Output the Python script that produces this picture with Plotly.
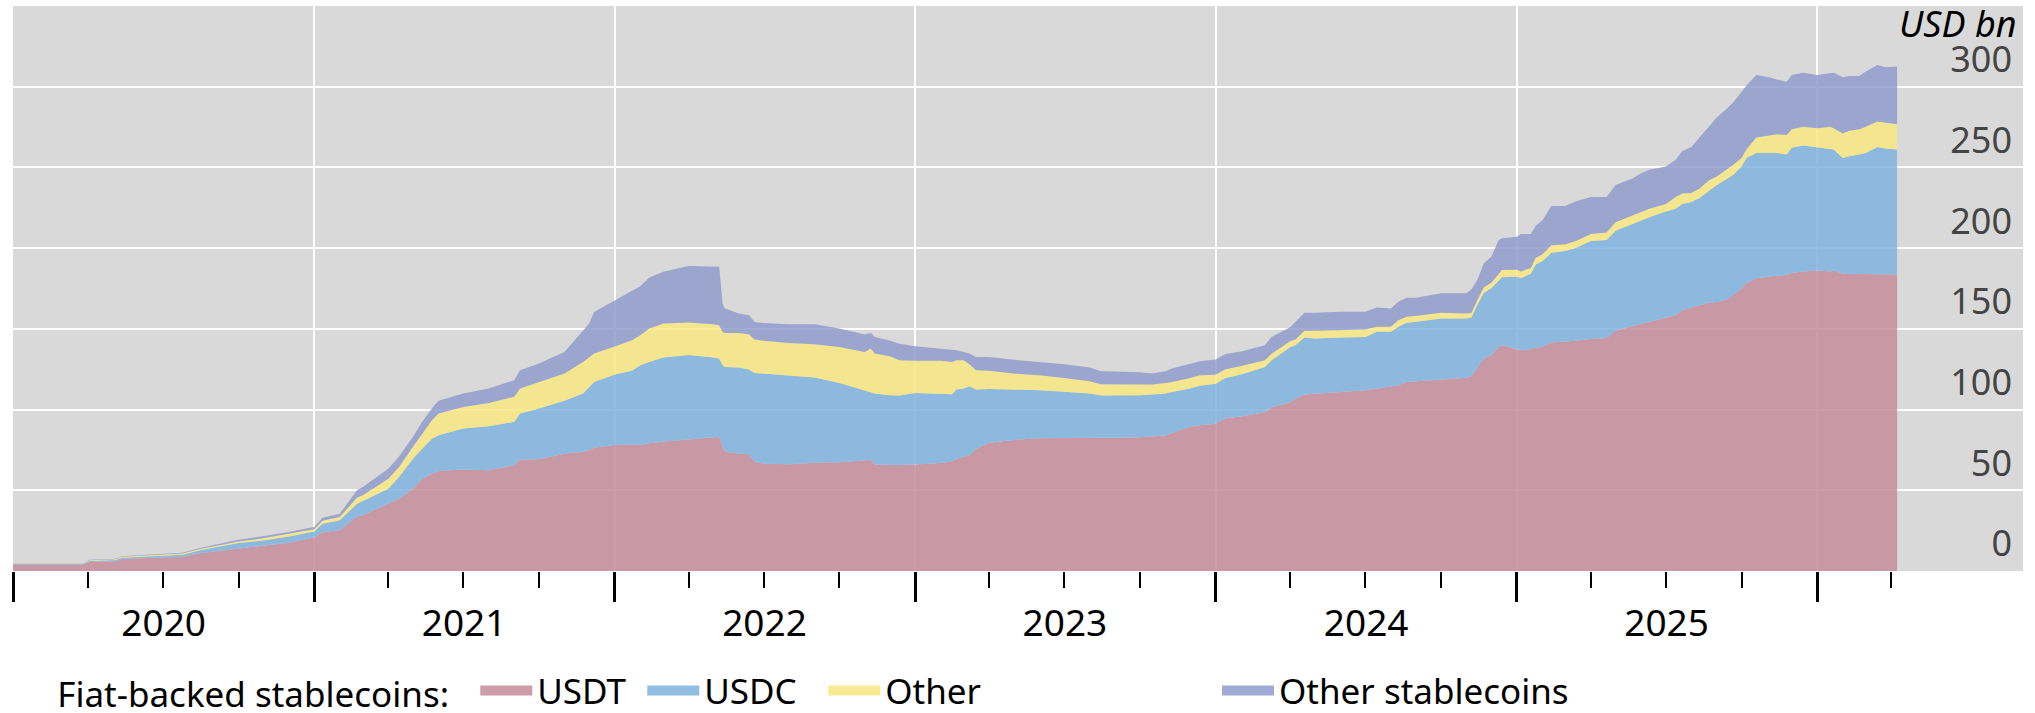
import plotly.graph_objects as go

# stablecoin market capitalisation, USD bn
dates = [
    "2020-01-01", "2020-03-25", "2020-04-03", "2020-05-05", "2020-05-12", "2020-07-01",
    "2020-07-25", "2020-08-15", "2020-09-01", "2020-10-01", "2020-11-01", "2020-12-01",
    "2021-01-01", "2021-01-11", "2021-02-01", "2021-02-22", "2021-03-01", "2021-04-01",
    "2021-04-14", "2021-05-01", "2021-05-12", "2021-05-24", "2021-06-01", "2021-07-01",
    "2021-08-01", "2021-09-01", "2021-09-08", "2021-10-01", "2021-11-01", "2021-11-24",
    "2021-12-01", "2021-12-07", "2022-01-01", "2022-01-22", "2022-02-01", "2022-02-12",
    "2022-03-01", "2022-04-01", "2022-05-01", "2022-05-08", "2022-05-12", "2022-05-15",
    "2022-06-01", "2022-06-13", "2022-06-20", "2022-07-01", "2022-08-01", "2022-09-01",
    "2022-10-01", "2022-11-01", "2022-11-08", "2022-11-13", "2022-12-01", "2022-12-13",
    "2023-01-01", "2023-02-01", "2023-02-15", "2023-02-20", "2023-03-01", "2023-03-08",
    "2023-03-16", "2023-04-01", "2023-05-01", "2023-06-01", "2023-07-01", "2023-08-01",
    "2023-08-15", "2023-09-01", "2023-10-01", "2023-10-16", "2023-11-01", "2023-11-09",
    "2023-12-01", "2023-12-13", "2024-01-01", "2024-01-13", "2024-02-01", "2024-03-01",
    "2024-03-09", "2024-04-01", "2024-04-07", "2024-04-18", "2024-05-01", "2024-06-01",
    "2024-07-01", "2024-07-15", "2024-08-01", "2024-08-10", "2024-08-20", "2024-09-01",
    "2024-10-01", "2024-11-01", "2024-11-07", "2024-11-14", "2024-11-22", "2024-12-01",
    "2024-12-10", "2024-12-14", "2025-01-01", "2025-01-06", "2025-01-18", "2025-01-24",
    "2025-02-01", "2025-02-12", "2025-03-01", "2025-03-14", "2025-04-01", "2025-04-20",
    "2025-05-01", "2025-05-22", "2025-06-01", "2025-06-11", "2025-07-01", "2025-07-13",
    "2025-07-21", "2025-08-01", "2025-08-11", "2025-08-23", "2025-09-01", "2025-09-13",
    "2025-09-21", "2025-10-01", "2025-10-07", "2025-10-19", "2025-11-01", "2025-11-13",
    "2025-11-25", "2025-12-01", "2025-12-15", "2026-01-01", "2026-01-17", "2026-01-21",
    "2026-02-01", "2026-02-09", "2026-02-21", "2026-03-01", "2026-03-15", "2026-03-25",
    "2026-04-08",
]

usdt = [
    4.0, 4.0, 5.6, 6.0, 7.5, 8.5, 8.9, 11.0, 12.1, 13.8, 15.6, 17.5,
    20.8, 24.0, 25.2, 33.9, 34.5, 41.7, 44.8, 51.0, 57.2, 60.3, 62.0, 62.8,
    62.4, 65.5, 69.0, 69.2, 72.7, 73.8, 74.8, 76.4, 78.1, 78.3, 78.1, 79.1,
    80.2, 81.4, 82.6, 83.1, 76.9, 73.8, 72.7, 72.3, 67.6, 66.5, 66.1, 67.1,
    67.4, 68.4, 68.8, 65.9, 65.7, 65.7, 66.0, 66.9, 67.9, 69.6, 70.7, 71.7,
    75.6, 79.5, 81.2, 82.2, 82.4, 82.4, 82.2, 82.6, 82.9, 83.3, 83.9, 85.5,
    89.3, 90.3, 91.2, 94.6, 95.7, 98.4, 101.5, 104.6, 106.7, 109.4, 109.8, 110.9,
    111.9, 112.9, 114.0, 115.0, 117.1, 117.5, 118.5, 119.7, 120.6, 125.4, 131.6, 133.6,
    138.8, 139.8, 137.5, 136.7, 137.4, 138.4, 138.8, 141.6, 142.2, 142.6, 143.7, 144.3,
    148.9, 152.1, 153.2, 154.2, 156.9, 158.4, 161.5, 163.2, 164.6, 166.1, 166.7, 168.2,
    170.9, 175.1, 178.2, 181.4, 182.4, 182.9, 183.5, 184.6, 185.6, 186.2, 185.6, 186.2,
    184.1, 184.1, 183.7, 183.7, 183.7, 183.7, 183.7,
]

usdc = [
    0.3, 0.3, 0.6, 0.8, 0.7, 1.1, 1.1, 1.8, 2.5, 3.5, 3.4, 3.8,
    3.6, 5.3, 6.2, 7.8, 8.9, 9.3, 13.5, 18.6, 18.6, 21.7, 22.1, 25.4,
    27.3, 26.9, 28.5, 31.4, 32.7, 36.3, 39.2, 40.7, 43.6, 45.7, 49.3, 50.4,
    52.0, 52.4, 49.6, 48.5, 50.5, 52.6, 53.3, 52.5, 55.1, 55.8, 55.2, 52.7,
    49.1, 43.5, 42.1, 44.0, 43.2, 43.0, 44.3, 43.0, 41.6, 42.8, 42.3, 42.8,
    36.8, 33.3, 31.2, 29.8, 28.6, 27.5, 26.5, 26.1, 26.0, 26.0, 26.0, 25.4,
    23.7, 24.4, 24.8, 25.0, 26.1, 27.9, 29.0, 34.2, 33.1, 35.2, 34.2, 33.7,
    33.1, 35.3, 34.2, 36.3, 36.7, 36.9, 37.9, 36.7, 36.5, 39.4, 40.8, 41.5,
    41.5, 42.2, 45.0, 44.7, 46.7, 51.4, 53.1, 55.5, 56.0, 57.7, 60.8, 60.8,
    61.9, 62.9, 63.9, 65.0, 65.8, 66.0, 65.9, 65.4, 66.5, 69.8, 72.4, 74.7,
    74.5, 75.5, 77.7, 77.6, 76.6, 76.1, 74.5, 77.6, 78.0, 76.4, 76.1, 74.9,
    71.8, 72.9, 74.3, 75.3, 78.9, 78.0, 77.4,
]

other_fiat = [
    0.2, 0.2, 0.5, 0.5, 0.6, 0.6, 0.8, 0.8, 0.8, 1.0, 1.4, 1.6,
    1.5, 1.9, 2.1, 3.8, 3.5, 6.2, 6.2, 7.3, 9.3, 11.4, 13.4, 13.4,
    14.4, 15.5, 15.5, 16.5, 16.9, 19.5, 18.6, 17.6, 17.3, 19.0, 18.7, 20.7,
    21.1, 20.1, 20.7, 20.7, 20.7, 21.1, 21.5, 21.9, 20.7, 20.3, 20.0, 20.7,
    22.3, 23.8, 26.9, 24.8, 24.2, 21.9, 19.9, 20.3, 20.0, 18.2, 17.6, 13.6,
    12.0, 11.2, 9.9, 9.3, 8.6, 7.7, 7.0, 7.0, 6.6, 6.2, 6.6, 6.2,
    6.6, 6.6, 5.5, 5.4, 5.2, 4.2, 4.1, 3.7, 3.6, 4.2, 4.8, 4.6,
    4.6, 3.1, 3.1, 4.1, 3.7, 3.7, 3.6, 3.1, 2.9, 3.1, 3.3, 3.5,
    4.1, 4.5, 4.1, 4.2, 3.6, 4.2, 4.2, 4.7, 4.2, 4.2, 4.2, 4.6,
    5.2, 5.2, 5.2, 5.2, 4.7, 7.3, 6.5, 5.5, 5.9, 6.3, 5.3, 5.6,
    6.3, 5.3, 5.2, 9.5, 10.5, 11.6, 12.1, 11.5, 11.6, 11.7, 13.5, 13.2,
    15.1, 15.7, 15.7, 16.2, 15.9, 16.2, 15.7,
]

other_stable = [
    0.1, 0.2, 0.2, 0.3, 0.4, 0.4, 0.5, 0.6, 0.6, 1.1, 1.3, 1.3,
    1.4, 1.8, 2.0, 4.5, 5.2, 6.2, 6.4, 6.2, 7.2, 7.4, 7.9, 8.3,
    8.9, 10.3, 11.4, 11.4, 13.4, 19.2, 20.7, 25.8, 28.5, 30.5, 30.3, 31.6,
    32.0, 35.0, 36.0, 36.2, 17.6, 15.1, 12.0, 11.8, 10.9, 11.1, 11.6, 12.4,
    11.4, 10.8, 9.7, 10.3, 9.7, 10.2, 9.0, 7.6, 7.7, 6.2, 5.1, 6.6,
    8.2, 8.6, 8.6, 8.2, 8.5, 8.4, 8.1, 7.9, 7.6, 6.8, 7.3, 8.3,
    8.5, 8.7, 9.5, 9.4, 9.0, 9.3, 10.4, 8.7, 10.9, 11.2, 11.2, 11.4,
    11.0, 12.0, 11.3, 11.4, 11.8, 11.2, 12.0, 12.5, 14.5, 12.4, 14.9, 16.1,
    20.7, 19.7, 20.4, 23.1, 21.0, 19.9, 21.0, 24.3, 23.7, 24.5, 23.0, 22.0,
    23.1, 23.1, 24.1, 24.1, 23.2, 23.1, 26.2, 28.5, 31.5, 33.6, 36.6, 37.8,
    38.6, 40.9, 39.7, 38.7, 36.7, 33.9, 32.9, 33.5, 33.5, 32.9, 33.1, 34.4,
    34.8, 33.9, 32.9, 34.2, 35.0, 34.2, 35.7,
]

series_names = ["USDT", "USDC", "Other", "Other stablecoins"]
year_mid = ["2020-07-02", "2021-07-02", "2022-07-02", "2023-07-02", "2024-07-02", "2025-07-02"]
year_labels = ["2020", "2021", "2022", "2023", "2024", "2025"]
y_ticks = [0, 50, 100, 150, 200, 250, 300]

colors = [
    "rgba(198,140,155,0.85)",
    "rgba(128,179,223,0.85)",
    "rgba(248,231,129,0.85)",
    "rgba(145,155,202,0.85)",
]
legend_widths = [100, 114, 100, 300]

fig = go.Figure()
for name, vals, col in zip(series_names, [usdt, usdc, other_fiat, other_stable], colors):
    fig.add_trace(go.Scatter(
        x=dates, y=vals, name=name, mode="lines", stackgroup="one",
        line=dict(width=0), fillcolor=col, showlegend=False,
    ))

# legend entries (thick line swatches); the last one sits in its own legend
for i, (name, col) in enumerate(zip(series_names, colors)):
    fig.add_trace(go.Scatter(
        x=[None], y=[None], xaxis="x2", mode="lines", name=name,
        line=dict(color=col, width=14), legendwidth=legend_widths[i],
        legend="legend2" if i == 3 else "legend",
    ))

xrange = ["2020-01-01", "2026-09-08"]

fig.update_layout(
    width=2035, height=713,
    margin=dict(l=13, r=12, t=6, b=142, autoexpand=False),
    paper_bgcolor="white", plot_bgcolor="#D9D9D9",
    font=dict(family="Noto Sans", size=34, color="black"),
    legend=dict(
        orientation="h", x=0.021, y=-0.212, xanchor="left", yanchor="middle",
        title=dict(text="Fiat-backed stablecoins:\u00a0\u00a0", side="left", font=dict(size=35)),
        font=dict(size=35), itemwidth=52, bgcolor="rgba(0,0,0,0)", traceorder="normal",
    ),
    legend2=dict(
        orientation="h", x=0.599, y=-0.212, xanchor="left", yanchor="middle",
        font=dict(size=35), itemwidth=52, bgcolor="rgba(0,0,0,0)",
    ),
    xaxis=dict(
        type="date", range=xrange, dtick="M12", tick0="2020-01-01",
        ticks="outside", ticklen=30, tickwidth=3, tickcolor="black",
        showticklabels=False, showgrid=True, gridcolor="white", gridwidth=2,
        zeroline=False, showline=False,
        minor=dict(dtick="M3", tick0="2020-01-01", ticks="outside", ticklen=16,
                   tickwidth=2, tickcolor="black", showgrid=False),
    ),
    xaxis2=dict(
        type="date", range=xrange, overlaying="x", anchor="y", side="bottom",
        tickmode="array", tickvals=year_mid, ticktext=year_labels,
        ticks="", showgrid=False, zeroline=False, showline=False,
        ticklabelstandoff=27, tickfont=dict(size=37),
    ),
    yaxis=dict(
        range=[0, 350], side="right", tickmode="array", tickvals=y_ticks,
        ticks="", ticklabelposition="inside top", ticklabelstandoff=8,
        ticklabelshift=-2, tickfont=dict(size=36),
        showgrid=True, gridcolor="white", gridwidth=2, zeroline=False,
    ),
    annotations=[dict(
        text="<i>USD bn</i>", xref="paper", yref="paper", x=1, y=1,
        xanchor="right", yanchor="top", xshift=-4, yshift=9, showarrow=False,
        font=dict(size=36),
    )],
)

fig.write_html("out.html", config={"displayModeBar": False},
               post_script="document.body.style.margin = '0';")
